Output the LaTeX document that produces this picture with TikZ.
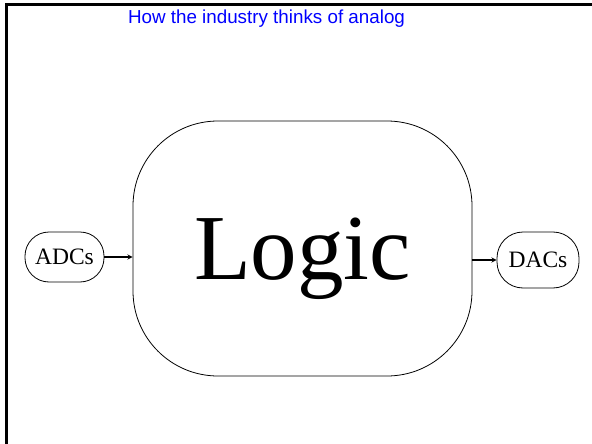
\documentclass[tikz,border=0pt]{standalone}
\usepackage{fontspec}
\setmainfont{Liberation Serif}
\newfontfamily\titlefont{Liberation Sans}
\usepackage{tikz}

\begin{document}
\begin{tikzpicture}[x=1pt,y=-1pt,
    box/.style={draw, line width=0.8pt, inner sep=0pt, text depth=0pt},
    feed/.style={->, >=stealth, line width=1.3pt}]
                \useasboundingbox (0,0) rectangle (592,444);
                % Frame
                \draw[line width=3pt] (6.7,444) -- (6.7,5) -- (592,5);

                % Nodes
                \node[text=blue, font=\titlefont\fontsize{18.8}{22}\selectfont] (title) at (266.5,19) {How the industry thinks of analog};
                \node[box, rounded corners=85pt, minimum width=339pt, minimum height=255pt,
                      font=\fontsize{93}{100}\selectfont] (logic) at (302.5,248.5) {Logic};
                \node[box, rounded corners=24pt, minimum width=79pt, minimum height=50pt,
                      font=\fontsize{23.5}{26}\selectfont] (adcs) at (64.5,257) {ADCs};
                \node[box, rounded corners=26pt, minimum width=82pt, minimum height=56pt,
                      font=\fontsize{23.5}{26}\selectfont] (dacs) at (538,260) {DACs};

                % Edges
                \draw[feed] (adcs) -- (adcs -| logic.west);
                \draw[feed] (dacs -| logic.east) -- (dacs);
\end{tikzpicture}
\end{document}
